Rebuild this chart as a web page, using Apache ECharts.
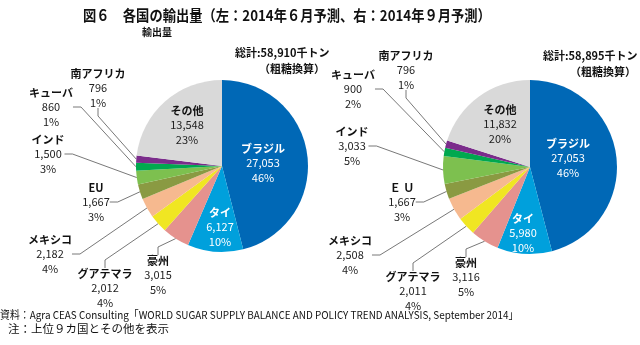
<!DOCTYPE html>
<html><head><meta charset="utf-8">
<script src="https://cdn.jsdelivr.net/npm/echarts@6/dist/echarts.min.js"></script>
<style>html,body{margin:0;padding:0;background:#fff}#c{width:640px;height:345px}</style>
</head><body><div id="c"></div>
<script>
// ---- data ----
const namesJune = ['ブラジル','タイ','豪州','グアテマラ','メキシコ','EU','インド','キューバ','南アフリカ','その他'];
const namesSept = ['ブラジル','タイ','豪州','グアテマラ','メキシコ','Ｅ Ｕ','インド','キューバ','南アフリカ','その他'];
const valuesJune = [27053, 6127, 3015, 2012, 2182, 1667, 1500, 860, 796, 13548];
const valuesSept = [27053, 5980, 3116, 2011, 2508, 1667, 3033, 900, 796, 11832];
const pctJune = [46, 10, 5, 4, 4, 3, 3, 1, 1, 23];
const pctSept = [46, 10, 5, 4, 4, 3, 5, 2, 1, 20];
const totalJune = '総計:58,910千トン';
const totalSept = '総計:58,895千トン';
const titleText = '図６　各国の輸出量（左：2014年６月予測、右：2014年９月予測）';
const unitText = '輸出量';
const convText = '（粗糖換算）';
const sourceText = '資料：Agra CEAS Consulting「WORLD SUGAR SUPPLY BALANCE AND POLICY TREND ANALYSIS, September 2014」';
const noteText = '注：上位９カ国とその他を表示';

// ---- styling / layout ----
const colors = ['#0068B6','#00A0DC','#E5928E','#F0E622','#F6B98F','#8A9A42','#7DC04F','#00A84F','#7B2C8B','#D9D9D9'];
const insideIdx = [0, 1, 9];
const labelPos = [
  [[263,163],[220,227],[158,275],[105,288],[50,254],[96,202],[48,154],[51,107],[98,88],[187,125]],
  [[568,158],[523,233],[466,277],[413,291],[350,255],[402,202],[352,146],[353,89],[406,70],[500,124]]
];
const FONT = "'Noto Sans CJK JP', sans-serif";

function fmt(v){ return v.toLocaleString('en-US'); }

function buildData(names, values, pcts){
  return names.map((n, i) => {
    const inside = insideIdx.indexOf(i) >= 0;
    const white = inside && i !== 9;
    return {
      name: n, value: values[i],
      itemStyle: { color: colors[i] },
      label: {
        formatter: '{n|' + n + '}\n{v|' + fmt(values[i]) + '}\n{v|' + pcts[i] + '%}',
        rich: {
          n: { fontFamily: FONT, fontWeight: 'bold', fontSize: 11, lineHeight: 14.5, color: white ? '#fff' : '#111' },
          v: { fontFamily: FONT, fontSize: 11, lineHeight: 14.5, color: white ? '#fff' : '#222' }
        }
      },
      labelLine: { show: !inside }
    };
  });
}

function makeSeries(idx, center, radius, names, values, pcts){
  return {
    type: 'pie',
    center: center,
    radius: radius,
    startAngle: 90,
    clockwise: true,
    avoidLabelOverlap: false,
    animation: false,
    itemStyle: { borderWidth: 0 },
    label: { show: true, position: 'outside', align: 'center' },
    labelLine: { show: true, length: 10, length2: 8, lineStyle: { color: '#555', width: 0.8 } },
    labelLayout: function(p){
      const pos = labelPos[idx][p.dataIndex];
      return { x: pos[0], y: pos[1], align: 'center', verticalAlign: 'middle' };
    },
    emphasis: { disabled: true },
    data: buildData(names, values, pcts)
  };
}

function txt(text, x, y, size, weight, sx, align){
  return {
    type: 'text', x: x, y: y, scaleX: sx || 1, silent: true,
    style: { text: text, fontFamily: FONT, fontSize: size, fontWeight: weight || 'normal', fill: '#111',
             textAlign: align || 'left', textVerticalAlign: 'middle' }
  };
}

const chart = echarts.init(document.getElementById('c'), null, { renderer: 'canvas' });
chart.setOption({
  backgroundColor: '#fff',
  animation: false,
  graphic: [
    txt(titleText, 83, 15, 15, 'bold', 0.885),
    txt(unitText, 142, 32, 10, 'bold'),
    txt(totalJune, 235, 53, 11, 'bold'),
    txt(convText, 259, 69, 11, 'bold'),
    txt(totalSept, 543, 56, 11, 'bold'),
    txt(convText, 570, 72, 11, 'bold'),
    txt(sourceText, 0, 315, 11, 'normal', 0.9),
    txt(noteText, 8, 329, 11.5, 'normal')
  ],
  series: [
    makeSeries(0, [222, 166], 86, namesJune, valuesJune, pctJune),
    makeSeries(1, [530, 167], 87, namesSept, valuesSept, pctSept)
  ]
});
</script>
</body></html>
